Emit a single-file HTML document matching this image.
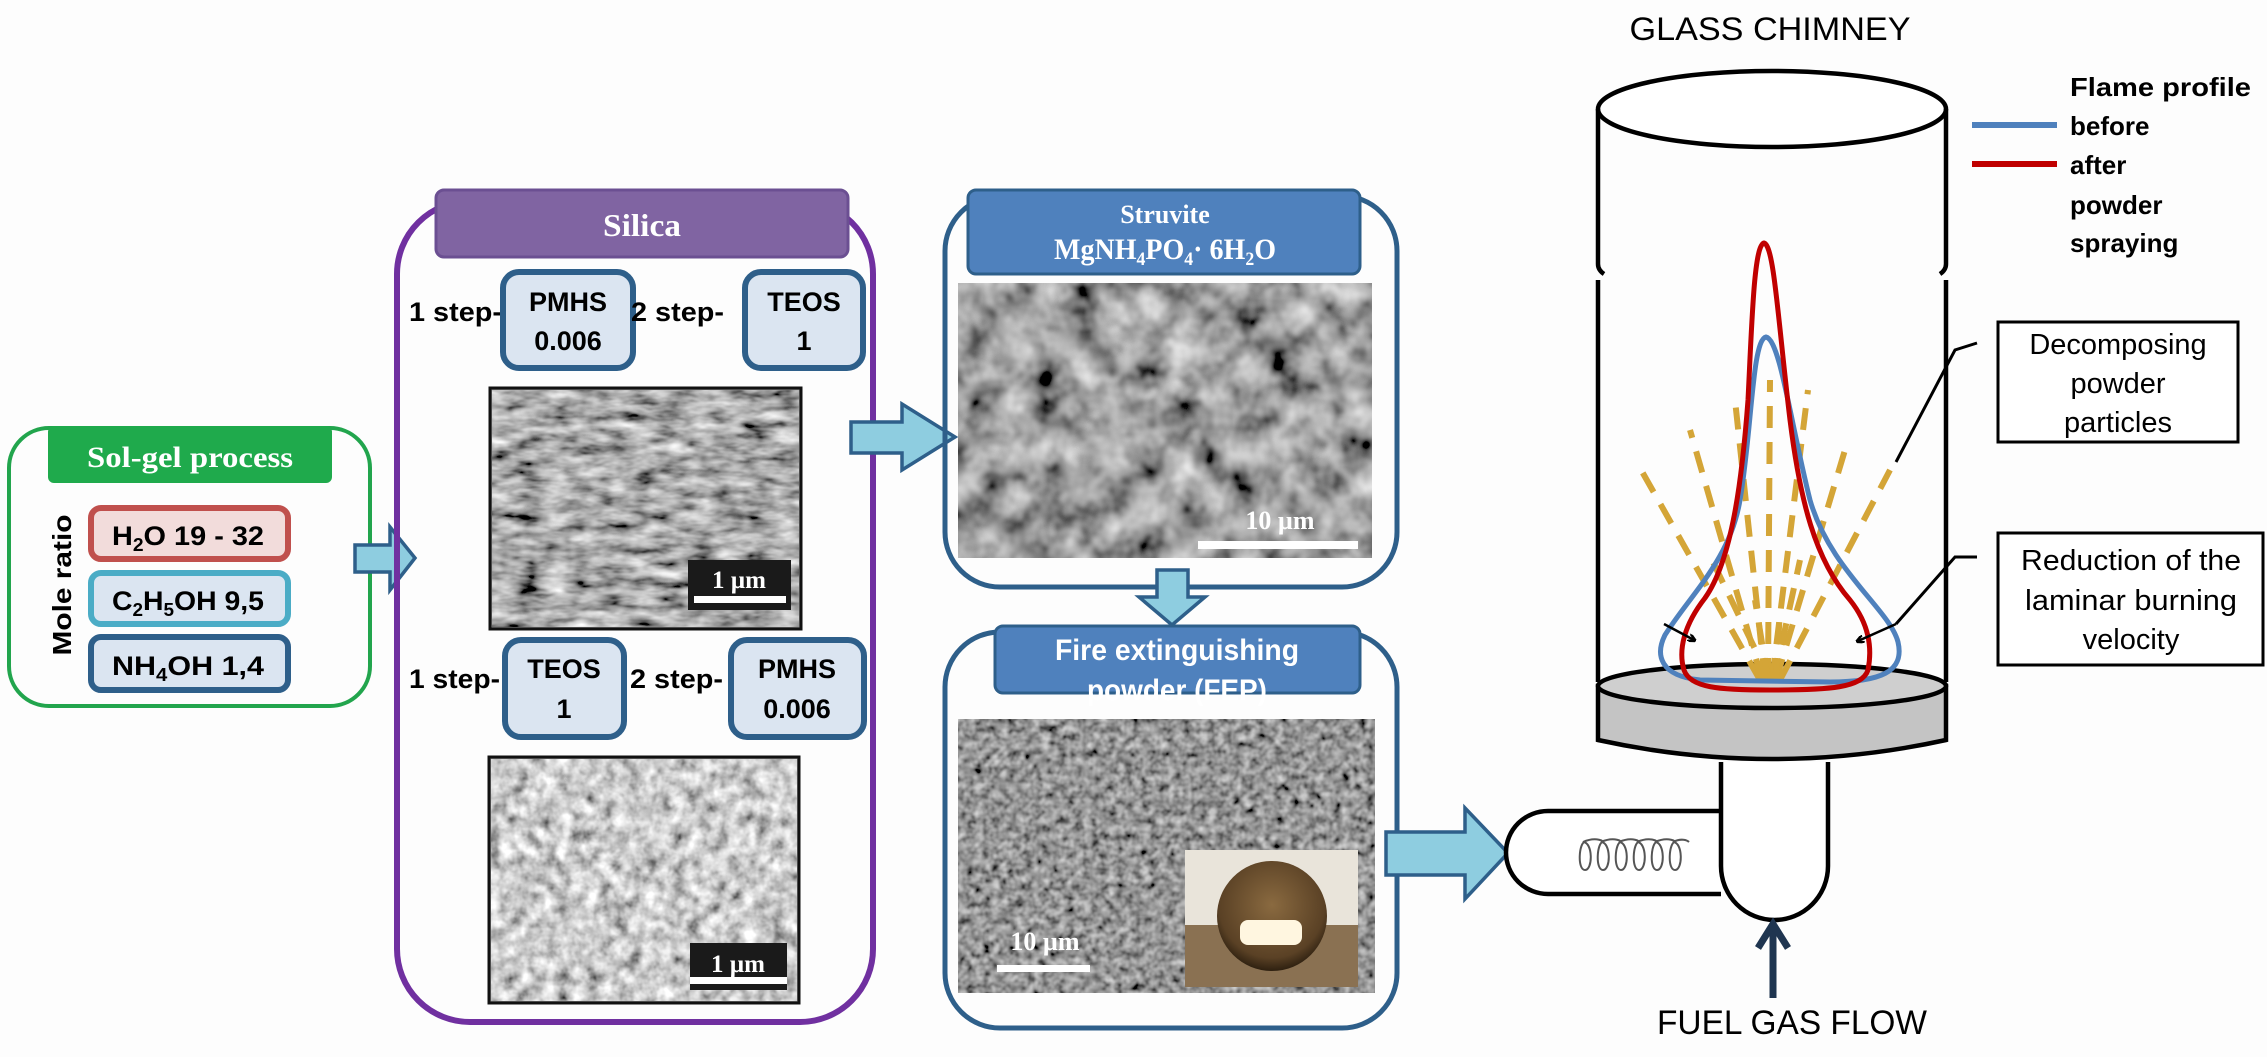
<!DOCTYPE html>
<html><head><meta charset="utf-8"><style>
html,body{margin:0;padding:0;background:#fdfdfd;}
svg{display:block;}
.sb{font-family:"Liberation Sans",sans-serif;font-weight:bold;}
.sr{font-family:"Liberation Serif",serif;font-weight:bold;}
.s{font-family:"Liberation Sans",sans-serif;}
</style></head><body>
<svg width="2267" height="1057" viewBox="0 0 2267 1057" xmlns="http://www.w3.org/2000/svg">
<defs>
<filter id="sem1" x="0" y="0" width="1" height="1">
 <feTurbulence type="fractalNoise" baseFrequency="0.035 0.09" numOctaves="3" seed="3" result="t"/>
 <feColorMatrix in="t" type="matrix" values="0.9 0.9 0 0 -0.5  0.9 0.9 0 0 -0.5  0.9 0.9 0 0 -0.5  0 0 0 0 1"/>
</filter>
<filter id="n1" x="0" y="0" width="1" height="1">
 <feTurbulence type="fractalNoise" baseFrequency="0.07" numOctaves="3" seed="5" result="t"/>
 <feColorMatrix in="t" type="matrix" values="0.8 0.8 0.8 0 -0.6  0.8 0.8 0.8 0 -0.6  0.8 0.8 0.8 0 -0.6  0 0 0 0 1"/>
</filter>
<filter id="n2" x="0" y="0" width="1" height="1">
 <feTurbulence type="fractalNoise" baseFrequency="0.03" numOctaves="3" seed="8" result="t"/>
 <feColorMatrix in="t" type="matrix" values="0.8 0.8 0 0 -0.45  0.8 0.8 0 0 -0.45  0.8 0.8 0 0 -0.45  0 0 0 0 1"/>
</filter>
<filter id="n3" x="0" y="0" width="1" height="1">
 <feTurbulence type="fractalNoise" baseFrequency="0.12" numOctaves="2" seed="11" result="t"/>
 <feColorMatrix in="t" type="matrix" values="0.6 0.6 0 0 -0.3  0.6 0.6 0 0 -0.3  0.6 0.6 0 0 -0.3  0 0 0 0 1"/>
</filter>
<radialGradient id="drop" cx="0.5" cy="0.4" r="0.6">
 <stop offset="0" stop-color="#8a6a40"/><stop offset="0.8" stop-color="#5a4125"/><stop offset="1" stop-color="#2e2010"/>
</radialGradient>
<marker id="ah" markerWidth="8" markerHeight="8" refX="6" refY="4" orient="auto" markerUnits="userSpaceOnUse">
 <path d="M0,0 L8,4 L0,8" fill="none" stroke="#000" stroke-width="2.5"/>
</marker>
</defs>

<!-- Sol-gel -->
<rect x="9" y="428" width="361" height="278" rx="40" fill="none" stroke="#22a54d" stroke-width="4"/>
<rect x="48" y="426" width="284" height="57" rx="6" fill="#1faa4c"/>
<text x="190" y="467" text-anchor="middle" class="sr" font-size="30" fill="#fff" textLength="206" lengthAdjust="spacingAndGlyphs">Sol-gel process</text>
<text transform="translate(71,585) rotate(-90)" text-anchor="middle" class="sb" font-size="26" textLength="141" lengthAdjust="spacingAndGlyphs">Mole ratio</text>
<rect x="91" y="508" width="197" height="51" rx="10" fill="#f2dcdb" stroke="#c0504d" stroke-width="6"/>
<text x="188" y="545" text-anchor="middle" class="sb" font-size="27" textLength="152" lengthAdjust="spacingAndGlyphs">H<tspan font-size="18" dy="6">2</tspan><tspan dy="-6">O 19 - 32</tspan></text>
<rect x="91" y="573" width="197" height="51" rx="10" fill="#dbe5f1" stroke="#4bacc6" stroke-width="6"/>
<text x="188" y="610" text-anchor="middle" class="sb" font-size="27" textLength="152" lengthAdjust="spacingAndGlyphs">C<tspan font-size="18" dy="6">2</tspan><tspan dy="-6">H</tspan><tspan font-size="18" dy="6">5</tspan><tspan dy="-6">OH 9,5</tspan></text>
<rect x="91" y="637" width="197" height="53" rx="10" fill="#dbe5f1" stroke="#2e5f8a" stroke-width="6"/>
<text x="188" y="675" text-anchor="middle" class="sb" font-size="27" textLength="152" lengthAdjust="spacingAndGlyphs">NH<tspan font-size="18" dy="6">4</tspan><tspan dy="-6">OH 1,4</tspan></text>

<!-- arrow 1 -->
<path d="M355,545 L390,545 L390,527 L415,558 L390,590 L390,572 L355,572 Z" fill="#8ecde0" stroke="#2e5f8a" stroke-width="3.5"/>

<!-- Silica -->
<rect x="397" y="201" width="476" height="821" rx="73" fill="none" stroke="#7030a0" stroke-width="6"/>
<rect x="436" y="190" width="412" height="67" rx="8" fill="#8064a2" stroke="#6b4f92" stroke-width="3"/>
<text x="642" y="236" text-anchor="middle" class="sr" font-size="32" fill="#fff" textLength="78" lengthAdjust="spacingAndGlyphs">Silica</text>

<text x="409" y="321" class="sb" font-size="27" textLength="93" lengthAdjust="spacingAndGlyphs">1 step-</text>
<rect x="503" y="272" width="130" height="96" rx="16" fill="#dbe5f1" stroke="#2e5f8a" stroke-width="6"/>
<text x="568" y="311" text-anchor="middle" class="sb" font-size="27">PMHS</text>
<text x="568" y="350" text-anchor="middle" class="sb" font-size="27">0.006</text>
<text x="631" y="321" class="sb" font-size="27" textLength="93" lengthAdjust="spacingAndGlyphs">2 step-</text>
<rect x="745" y="272" width="118" height="96" rx="16" fill="#dbe5f1" stroke="#2e5f8a" stroke-width="6"/>
<text x="804" y="311" text-anchor="middle" class="sb" font-size="27">TEOS</text>
<text x="804" y="350" text-anchor="middle" class="sb" font-size="27">1</text>

<rect x="490" y="388" width="311" height="241" fill="#888" stroke="#111" stroke-width="3"/>
<rect x="492" y="390" width="307" height="237" filter="url(#sem1)"/>
<rect x="688" y="560" width="103" height="50" fill="#1a1a1a"/>
<text x="739" y="588" text-anchor="middle" class="sr" font-size="25" fill="#fff" font-weight="normal">1 µm</text>
<rect x="694" y="596" width="92" height="7" fill="#fff"/>

<text x="409" y="688" class="sb" font-size="27" textLength="91" lengthAdjust="spacingAndGlyphs">1 step-</text>
<rect x="505" y="640" width="119" height="97" rx="16" fill="#dbe5f1" stroke="#2e5f8a" stroke-width="6"/>
<text x="564" y="678" text-anchor="middle" class="sb" font-size="27">TEOS</text>
<text x="564" y="718" text-anchor="middle" class="sb" font-size="27">1</text>
<text x="630" y="688" class="sb" font-size="27" textLength="93" lengthAdjust="spacingAndGlyphs">2 step-</text>
<rect x="731" y="640" width="133" height="97" rx="16" fill="#dbe5f1" stroke="#2e5f8a" stroke-width="6"/>
<text x="797" y="678" text-anchor="middle" class="sb" font-size="27">PMHS</text>
<text x="797" y="718" text-anchor="middle" class="sb" font-size="27">0.006</text>

<rect x="489" y="757" width="310" height="246" fill="#888" stroke="#111" stroke-width="3"/>
<rect x="491" y="759" width="306" height="242" filter="url(#n1)"/>
<rect x="690" y="943" width="97" height="47" fill="#1a1a1a"/>
<text x="738" y="972" text-anchor="middle" class="sr" font-size="25" fill="#fff" font-weight="normal">1 µm</text>
<rect x="690" y="977" width="97" height="7" fill="#fff"/>

<!-- arrow 2 -->
<path d="M851,422 L902,422 L902,404 L955,437 L902,470 L902,453 L851,453 Z" fill="#8ecde0" stroke="#2e5f8a" stroke-width="3.5"/>

<!-- Struvite -->
<rect x="945" y="196" width="452" height="391" rx="55" fill="none" stroke="#2e5f8a" stroke-width="5"/>
<rect x="968" y="190" width="392" height="84" rx="8" fill="#4f81bd" stroke="#2e5f8a" stroke-width="3"/>
<text x="1165" y="223" text-anchor="middle" class="sr" font-size="26" fill="#fff">Struvite</text>
<text x="1165" y="259" text-anchor="middle" class="sr" font-size="30" fill="#fff" textLength="222" lengthAdjust="spacingAndGlyphs">MgNH<tspan font-size="19" dy="6">4</tspan><tspan dy="-6">PO</tspan><tspan font-size="19" dy="6">4</tspan><tspan dy="-6">· 6H</tspan><tspan font-size="19" dy="6">2</tspan><tspan dy="-6">O</tspan></text>
<rect x="958" y="283" width="414" height="275" filter="url(#n2)"/>
<text x="1280" y="529" text-anchor="middle" class="sr" font-size="26" fill="#fff">10 µm</text>
<rect x="1198" y="541" width="160" height="8" fill="#fff"/>

<!-- down arrow -->
<path d="M1157,570 L1188,570 L1188,597 L1205,597 L1172,625 L1139,597 L1157,597 Z" fill="#8ecde0" stroke="#2e5f8a" stroke-width="3.5"/>

<!-- FEP -->
<rect x="945" y="632" width="452" height="396" rx="55" fill="none" stroke="#2e5f8a" stroke-width="5"/>
<rect x="995" y="626" width="365" height="67" rx="8" fill="#4f81bd" stroke="#2e5f8a" stroke-width="3"/>
<text x="1177" y="660" text-anchor="middle" class="sb" font-size="30" fill="#fff" textLength="244" lengthAdjust="spacingAndGlyphs">Fire extinguishing</text>
<text x="1177" y="700" text-anchor="middle" class="sb" font-size="30" fill="#fff" textLength="180" lengthAdjust="spacingAndGlyphs">powder (FEP)</text>
<rect x="958" y="719" width="417" height="274" filter="url(#n3)"/>
<rect x="1185" y="850" width="173" height="137" fill="#e9e4da"/>
<rect x="1185" y="925" width="173" height="62" fill="#8a7152"/>
<circle cx="1272" cy="916" r="55" fill="url(#drop)"/>
<rect x="1240" y="920" width="62" height="25" rx="8" fill="#fff6e0"/>
<text x="1045" y="950" text-anchor="middle" class="sr" font-size="26" fill="#fff">10 µm</text>
<rect x="997" y="965" width="93" height="7" fill="#fff"/>

<!-- arrow 3 -->
<path d="M1386,832 L1465,832 L1465,808 L1508,853 L1465,899 L1465,875 L1386,875 Z" fill="#8ecde0" stroke="#2e5f8a" stroke-width="3.5"/>

<!-- burner -->
<path d="M1721,811 L1548,811 A42,41.5 0 0 0 1548,894 L1721,894" fill="#fff" stroke="#000" stroke-width="4.5"/>
<path d="M1721,762 L1721,866 A53.5,54 0 0 0 1828,866 L1828,762" fill="#fff" stroke="#000" stroke-width="4.5"/>
<path d="M1585,842 c-6,0 -8,28 0,28 c8,0 8,-28 -2,-28 c14,-6 22,0 20,0 c-6,0 -8,28 0,28 c8,0 8,-28 -2,-28 c14,-6 22,0 20,0 c-6,0 -8,28 0,28 c8,0 8,-28 -2,-28 c14,-6 22,0 20,0 c-6,0 -8,28 0,28 c8,0 8,-28 -2,-28 c14,-6 22,0 20,0 c-6,0 -8,28 0,28 c8,0 8,-28 -2,-28 c14,-6 22,0 20,0 c-6,0 -8,28 0,28 c8,0 8,-28 -2,-28 c8,-4 14,-2 16,0" fill="none" stroke="#555" stroke-width="2"/>
<path d="M1598,686 L1598,740 Q1772,778 1946,740 L1946,686 Z" fill="#c4c4c4" stroke="#000" stroke-width="4.5"/>
<ellipse cx="1772" cy="686" rx="174" ry="22" fill="#cfcfcf" stroke="#000" stroke-width="4.5"/>
<line x1="1773" y1="998" x2="1773" y2="926" stroke="#1f3550" stroke-width="7"/>
<path d="M1758,948 L1773,924 L1788,948" fill="none" stroke="#1f3550" stroke-width="7"/>
<text x="1792" y="1034" text-anchor="middle" class="s" font-size="34" textLength="270" lengthAdjust="spacingAndGlyphs">FUEL GAS FLOW</text>

<!-- chimney -->
<text x="1770" y="40" text-anchor="middle" class="s" font-size="32" textLength="281" lengthAdjust="spacingAndGlyphs">GLASS CHIMNEY</text>
<ellipse cx="1772" cy="109" rx="174" ry="38" fill="#fff" stroke="#000" stroke-width="4.5"/>
<path d="M1598,109 L1598,264 M1598,264 q0,6 6,10 M1598,280 L1598,682 M1946,109 L1946,264 M1946,264 q0,6 -6,10 M1946,280 L1946,682" fill="none" stroke="#000" stroke-width="4.5"/>

<!-- legend -->
<line x1="1972" y1="125" x2="2057" y2="125" stroke="#4f81bd" stroke-width="6"/>
<line x1="1972" y1="164" x2="2057" y2="164" stroke="#c00000" stroke-width="6"/>
<g class="sb" font-size="26">
<text x="2070" y="96" textLength="181" lengthAdjust="spacingAndGlyphs">Flame profile</text>
<text x="2070" y="135">before</text>
<text x="2070" y="174">after</text>
<text x="2070" y="214">powder</text>
<text x="2070" y="252">spraying</text>
</g>

<!-- particles -->
<g stroke="#d4a537" stroke-width="6" stroke-dasharray="22 14" fill="none">
<line x1="1760" y1="680" x2="1640" y2="468"/>
<line x1="1762" y1="680" x2="1690" y2="430"/>
<line x1="1765" y1="680" x2="1735" y2="400"/>
<line x1="1768" y1="680" x2="1770" y2="380"/>
<line x1="1772" y1="680" x2="1808" y2="390"/>
<line x1="1776" y1="680" x2="1848" y2="440"/>
<line x1="1780" y1="680" x2="1890" y2="470"/>
<line x1="1770" y1="680" x2="1712" y2="560"/>
<line x1="1774" y1="680" x2="1800" y2="560"/>
<line x1="1768" y1="680" x2="1755" y2="600"/>
<line x1="1776" y1="680" x2="1780" y2="610"/>
</g>

<!-- flames -->
<path d="M1766,337 C1780,340 1790,420 1810,500 C1830,570 1890,610 1898,642 C1905,672 1880,682 1830,682 L1700,680 C1660,676 1655,655 1665,635 C1690,595 1730,560 1740,500 C1752,430 1752,340 1766,337 Z" fill="none" stroke="#4f81bd" stroke-width="5"/>
<path d="M1764,243 C1774,245 1778,320 1790,420 C1800,500 1815,560 1850,600 C1870,625 1872,650 1868,670 C1862,688 1830,690 1770,690 C1720,690 1690,688 1684,670 C1678,650 1684,625 1705,598 C1732,560 1742,480 1748,400 C1752,320 1754,245 1764,243 Z" fill="none" stroke="#c00000" stroke-width="5"/>
<line x1="1664" y1="624" x2="1694" y2="640" stroke="#000" stroke-width="2.5" marker-end="url(#ah)"/>
<line x1="1896" y1="624" x2="1858" y2="641" stroke="#000" stroke-width="2.5" marker-end="url(#ah)"/>

<!-- callouts -->
<rect x="1998" y="322" width="240" height="120" fill="#fff" stroke="#000" stroke-width="3"/>
<g class="s" font-size="29" text-anchor="middle">
<text x="2118" y="354">Decomposing</text>
<text x="2118" y="393">powder</text>
<text x="2118" y="432">particles</text>
</g>
<path d="M1977,343 L1955,350 L1896,462" fill="none" stroke="#000" stroke-width="3"/>
<rect x="1998" y="533" width="265" height="132" fill="#fff" stroke="#000" stroke-width="3"/>
<g class="s" font-size="29" text-anchor="middle">
<text x="2131" y="570" textLength="220" lengthAdjust="spacingAndGlyphs">Reduction of the</text>
<text x="2131" y="610" textLength="212" lengthAdjust="spacingAndGlyphs">laminar burning</text>
<text x="2131" y="649">velocity</text>
</g>
<path d="M1977,557 L1955,557 L1896,624" fill="none" stroke="#000" stroke-width="3"/>
</svg>
</body></html>
